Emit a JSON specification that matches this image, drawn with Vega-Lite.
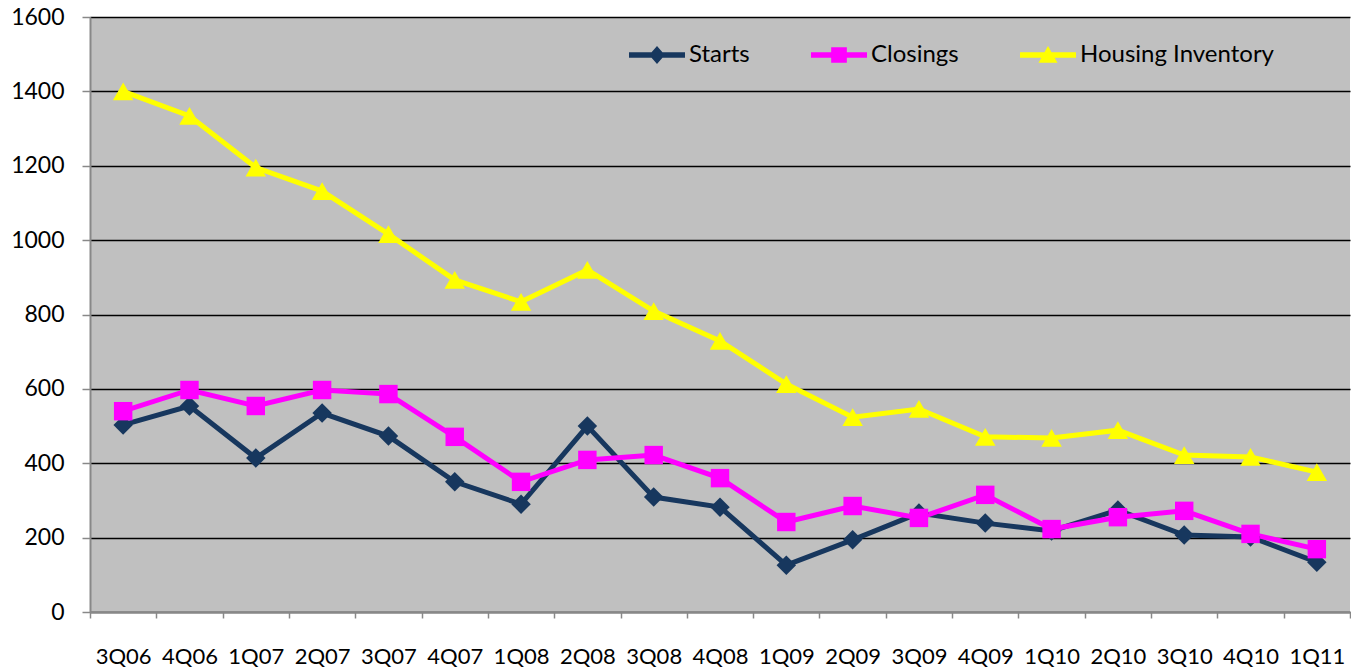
{
  "$schema": "https://vega.github.io/schema/vega-lite/v6.json",
  "width": 1260,
  "height": 595,
  "autosize": "none",
  "padding": {"left": 90, "top": 17, "right": 1, "bottom": 56},
  "background": "#FFFFFF",
  "config": {
    "font": "Lato",
    "view": {"fill": "#C0C0C0", "stroke": null}
  },
  "data": {
    "values": [
      {"q": "3Q06", "series": "Starts", "value": 503},
      {"q": "4Q06", "series": "Starts", "value": 554},
      {"q": "1Q07", "series": "Starts", "value": 414},
      {"q": "2Q07", "series": "Starts", "value": 535},
      {"q": "3Q07", "series": "Starts", "value": 473},
      {"q": "4Q07", "series": "Starts", "value": 350},
      {"q": "1Q08", "series": "Starts", "value": 290},
      {"q": "2Q08", "series": "Starts", "value": 500},
      {"q": "3Q08", "series": "Starts", "value": 309},
      {"q": "4Q08", "series": "Starts", "value": 282},
      {"q": "1Q09", "series": "Starts", "value": 126},
      {"q": "2Q09", "series": "Starts", "value": 194},
      {"q": "3Q09", "series": "Starts", "value": 266},
      {"q": "4Q09", "series": "Starts", "value": 239},
      {"q": "1Q10", "series": "Starts", "value": 218},
      {"q": "2Q10", "series": "Starts", "value": 274},
      {"q": "3Q10", "series": "Starts", "value": 207},
      {"q": "4Q10", "series": "Starts", "value": 202},
      {"q": "1Q11", "series": "Starts", "value": 134},
      {"q": "3Q06", "series": "Closings", "value": 540},
      {"q": "4Q06", "series": "Closings", "value": 597},
      {"q": "1Q07", "series": "Closings", "value": 554},
      {"q": "2Q07", "series": "Closings", "value": 597},
      {"q": "3Q07", "series": "Closings", "value": 586},
      {"q": "4Q07", "series": "Closings", "value": 471},
      {"q": "1Q08", "series": "Closings", "value": 350},
      {"q": "2Q08", "series": "Closings", "value": 409},
      {"q": "3Q08", "series": "Closings", "value": 422},
      {"q": "4Q08", "series": "Closings", "value": 360},
      {"q": "1Q09", "series": "Closings", "value": 242},
      {"q": "2Q09", "series": "Closings", "value": 285},
      {"q": "3Q09", "series": "Closings", "value": 253},
      {"q": "4Q09", "series": "Closings", "value": 315},
      {"q": "1Q10", "series": "Closings", "value": 223},
      {"q": "2Q10", "series": "Closings", "value": 255},
      {"q": "3Q10", "series": "Closings", "value": 272},
      {"q": "4Q10", "series": "Closings", "value": 210},
      {"q": "1Q11", "series": "Closings", "value": 169},
      {"q": "3Q06", "series": "Housing Inventory", "value": 1400},
      {"q": "4Q06", "series": "Housing Inventory", "value": 1334},
      {"q": "1Q07", "series": "Housing Inventory", "value": 1195},
      {"q": "2Q07", "series": "Housing Inventory", "value": 1132},
      {"q": "3Q07", "series": "Housing Inventory", "value": 1016},
      {"q": "4Q07", "series": "Housing Inventory", "value": 893},
      {"q": "1Q08", "series": "Housing Inventory", "value": 834},
      {"q": "2Q08", "series": "Housing Inventory", "value": 920},
      {"q": "3Q08", "series": "Housing Inventory", "value": 809},
      {"q": "4Q08", "series": "Housing Inventory", "value": 729},
      {"q": "1Q09", "series": "Housing Inventory", "value": 613},
      {"q": "2Q09", "series": "Housing Inventory", "value": 524},
      {"q": "3Q09", "series": "Housing Inventory", "value": 546},
      {"q": "4Q09", "series": "Housing Inventory", "value": 471},
      {"q": "1Q10", "series": "Housing Inventory", "value": 468},
      {"q": "2Q10", "series": "Housing Inventory", "value": 489},
      {"q": "3Q10", "series": "Housing Inventory", "value": 422},
      {"q": "4Q10", "series": "Housing Inventory", "value": 417},
      {"q": "1Q11", "series": "Housing Inventory", "value": 376}
    ]
  },
  "encoding": {
    "x": {
      "field": "q",
      "type": "ordinal",
      "sort": null,
      "bandPosition": 0.5,
      "scale": {"type": "band", "paddingInner": 0, "paddingOuter": 0},
      "axis": {
        "title": null,
        "labelAngle": 0,
        "tickBand": "extent",
        "tickSize": 6,
        "tickColor": "#888888",
        "tickWidth": 1.5,
        "domainColor": "#888888",
        "domainWidth": 2,
        "labelFontSize": 22,
        "labelColor": "#000000",
        "labelPadding": 28,
        "grid": false,
        "zindex": 1
      }
    },
    "y": {
      "field": "value",
      "type": "quantitative",
      "scale": {"domain": [0, 1600], "nice": false},
      "axis": {
        "title": null,
        "format": "d",
        "values": [0, 200, 400, 600, 800, 1000, 1200, 1400, 1600],
        "tickSize": 8,
        "tickColor": "#888888",
        "tickWidth": 1.5,
        "domainColor": "#888888",
        "domainWidth": 2,
        "gridColor": "#000000",
        "gridWidth": 1.5,
        "gridOpacity": 1,
        "labelFontSize": 23,
        "labelColor": "#000000",
        "labelPadding": 18
      }
    }
  },
  "layer": [
    {
      "mark": {"type": "line", "strokeWidth": 5},
      "encoding": {
        "color": {
          "field": "series",
          "type": "nominal",
          "scale": {
            "domain": ["Starts", "Closings", "Housing Inventory"],
            "range": ["#17375E", "#FF00FF", "#FFFF00"]
          },
          "legend": {
            "title": null,
            "orient": "none",
            "legendX": 539,
            "legendY": 10,
            "direction": "horizontal",
            "padding": 0,
            "symbolSize": 3136,
            "labelOffset": 4,
            "columnPadding": 61,
            "labelFontSize": 24,
            "labelLimit": 400,
            "labelColor": "#000000",
            "labelFont": "Lato",
            "encode": {
              "symbols": {
                "update": {
                  "shape": {"signal": "datum.value === 'Starts' ? 'M-1,-0.1H1V0.1H-1Z M0,-0.32L0.28,0L0,0.32L-0.28,0Z' : datum.value === 'Closings' ? 'M-1,-0.1H1V0.1H-1Z M-0.28,-0.28H0.28V0.28H-0.28Z' : 'M-1,-0.1H1V0.1H-1Z M0,-0.32L0.34,0.28H-0.34Z'"},
                  "fill": {"signal": "datum.value === 'Starts' ? '#17375E' : datum.value === 'Closings' ? '#FF00FF' : '#FFFF00'"},
                  "fillOpacity": {"value": 1},
                  "opacity": {"value": 1},
                  "strokeWidth": {"value": 0}
                }
              }
            }
          }
        }
      }
    },
    {
      "transform": [{"filter": "datum.series === 'Starts'"}],
      "mark": {"type": "point", "filled": true, "opacity": 1, "size": 380, "shape": "diamond", "color": "#17375E"}
    },
    {
      "transform": [{"filter": "datum.series === 'Closings'"}],
      "mark": {"type": "point", "filled": true, "opacity": 1, "size": 340, "shape": "square", "color": "#FF00FF"}
    },
    {
      "transform": [{"filter": "datum.series === 'Housing Inventory'"}],
      "mark": {"type": "point", "filled": true, "opacity": 1, "size": 420, "shape": "triangle-up", "color": "#FFFF00"}
    }
  ]
}
